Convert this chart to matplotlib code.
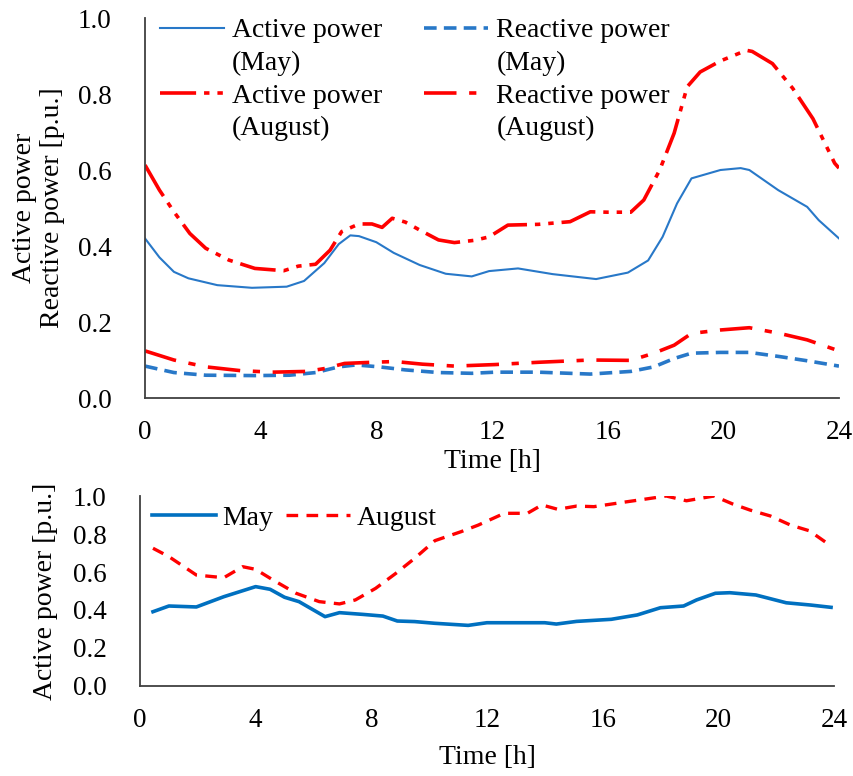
import matplotlib
matplotlib.use("Agg")
import matplotlib.pyplot as plt
from matplotlib.lines import Line2D

plt.rcParams['font.family'] = ['Liberation Serif', 'DejaVu Serif']

# ---------------- data (top) ----------------
h_act_may = [0, 0.5, 1.0, 1.5, 2.5, 3.7, 4.9, 5.5, 6.2, 6.7, 7.1, 7.4, 8.0, 8.6, 9.5, 10.4,
             11.3, 11.9, 12.9, 14.1, 15.6, 16.7, 17.4, 17.9, 18.4, 18.9, 19.9, 20.6, 20.9,
             21.9, 22.9, 23.3, 24.0]
v_act_may = [0.420, 0.370, 0.332, 0.315, 0.297, 0.290, 0.293, 0.308, 0.355, 0.405, 0.428,
             0.426, 0.410, 0.382, 0.350, 0.327, 0.320, 0.334, 0.341, 0.326, 0.313, 0.330,
             0.362, 0.424, 0.512, 0.578, 0.600, 0.605, 0.600, 0.547, 0.503, 0.468, 0.420]

h_act_aug = [0, 0.5, 1.0, 1.55, 2.1, 2.9, 3.8, 4.8, 5.3, 5.9, 6.4, 6.8, 7.4, 7.85, 8.2, 8.55,
             9.0, 9.5, 10.15, 10.7, 11.4, 11.9, 12.55, 13.6, 14.7, 15.4, 16.0, 16.8, 17.25,
             17.8, 18.3, 18.75, 19.2, 19.9, 20.8, 21.0, 21.7, 22.4, 23.1, 23.85, 24.0]
v_act_aug = [0.613, 0.547, 0.490, 0.433, 0.394, 0.363, 0.341, 0.335, 0.347, 0.352, 0.389,
             0.438, 0.458, 0.458, 0.449, 0.473, 0.463, 0.442, 0.416, 0.409, 0.415, 0.424,
             0.455, 0.457, 0.464, 0.490, 0.489, 0.489, 0.521, 0.600, 0.697, 0.819, 0.858,
             0.887, 0.915, 0.912, 0.880, 0.815, 0.735, 0.618, 0.605]

h_rea_may = [0, 1.0, 2.1, 3.8, 5.0, 5.9, 6.7, 7.3, 8.1, 9.0, 10.15, 11.3, 12.1, 13.6, 15.4,
             16.8, 17.6, 18.3, 18.9, 19.9, 20.9, 21.95, 22.9, 24.0]
v_rea_may = [0.084, 0.067, 0.060, 0.059, 0.060, 0.067, 0.082, 0.087, 0.082, 0.074, 0.067,
             0.065, 0.068, 0.068, 0.063, 0.070, 0.082, 0.104, 0.118, 0.120, 0.120, 0.109,
             0.098, 0.084]

h_rea_aug = [0, 1.0, 2.1, 3.3, 4.4, 5.6, 6.25, 6.9, 7.85, 8.65, 9.6, 10.7, 12.1, 13.6, 15.4,
             16.8, 17.6, 18.3, 18.9, 19.9, 20.9, 21.95, 22.9, 24.0]
v_rea_aug = [0.124, 0.100, 0.082, 0.072, 0.068, 0.070, 0.078, 0.091, 0.094, 0.096, 0.089,
             0.084, 0.088, 0.094, 0.100, 0.099, 0.118, 0.139, 0.170, 0.179, 0.185, 0.170,
             0.153, 0.124]

# ---------------- data (bottom) ----------------
h_may = [0.45, 1.0, 1.95, 2.9, 4.0, 4.5, 5.0, 5.5, 6.4, 6.9, 7.7, 8.4, 8.9, 9.5, 10.2, 11.35,
         12.0, 12.6, 14.0, 14.4, 15.1, 16.3, 17.2, 18.0, 18.8, 19.25, 19.9, 20.4, 21.3,
         22.35, 23.2, 23.9]
v_may = [0.391, 0.421, 0.416, 0.470, 0.523, 0.509, 0.467, 0.444, 0.365, 0.386, 0.377, 0.368,
         0.342, 0.339, 0.330, 0.319, 0.333, 0.333, 0.333, 0.326, 0.340, 0.351, 0.374, 0.412,
         0.421, 0.453, 0.488, 0.491, 0.479, 0.438, 0.426, 0.414]

h_aug = [0.45, 1.0, 1.95, 2.9, 3.55, 4.0, 4.6, 5.4, 6.2, 6.9, 7.45, 8.15, 8.85, 9.5, 10.2,
         11.1, 11.7, 12.6, 13.4, 13.9, 14.45, 15.1, 15.7, 16.85, 17.4, 18.2, 18.9, 19.85,
         20.5, 21.1, 21.8, 22.5, 23.15, 23.9]
v_aug = [0.725, 0.681, 0.584, 0.570, 0.628, 0.614, 0.558, 0.488, 0.444, 0.432, 0.453, 0.514,
         0.593, 0.672, 0.765, 0.812, 0.847, 0.909, 0.909, 0.953, 0.930, 0.947, 0.944, 0.970,
         0.982, 1.000, 0.975, 1.000, 0.958, 0.926, 0.895, 0.847, 0.817, 0.737]

x_ticks = [0, 4, 8, 12, 16, 20, 24]
y_ticks = [0.0, 0.2, 0.4, 0.6, 0.8, 1.0]

BLUE = "#2878C8"
BLUE2 = "#0070C0"
RED = "#FF0000"
FS = 20
TFS = 19.5

fig = plt.figure(figsize=(8.54, 7.76), dpi=100)
ax1 = fig.add_axes([0.1698, 0.4871, 0.8126, 0.4897])
ax2 = fig.add_axes([0.1639, 0.1160, 0.8126, 0.2448])

l1, = ax1.plot(h_act_may, v_act_may, color=BLUE, lw=1.5)
l2, = ax1.plot(h_act_aug, v_act_aug, color=RED, lw=2.6,
               dashes=(10, 2.2, 1.5, 2.2, 1.5, 2.2))
l3, = ax1.plot(h_rea_may, v_rea_may, color=BLUE, lw=2.6, dashes=(3.5, 2))
l4, = ax1.plot(h_rea_aug, v_rea_aug, color=RED, lw=2.6, dashes=(9, 3.5, 2, 3.5))

m1, = ax2.plot(h_may, v_may, color=BLUE2, lw=2.6, label="May")
m2, = ax2.plot(h_aug, v_aug, color=RED, lw=2.4, dashes=(3.5, 2.5), label="August")

for ax in (ax1, ax2):
    ax.set_xlim(0, 24)
    ax.set_ylim(0, 1.0)
    ax.set_xticks(x_ticks)
    ax.set_yticks(y_ticks)
    ax.set_yticklabels([f"{t:.1f}" for t in y_ticks])
    ax.spines['top'].set_visible(False)
    ax.spines['right'].set_visible(False)
    for s in ('left', 'bottom'):
        ax.spines[s].set_color('#404040')
        ax.spines[s].set_linewidth(1.3)
    ax.tick_params(axis='both', length=0, labelsize=TFS)
    ax.tick_params(axis='x', pad=16)
    ax.tick_params(axis='y', pad=24)

ax1.set_xlabel("Time [h]", fontsize=FS, va='center')
ax1.xaxis.set_label_coords(0.5, -0.168)
ax1.set_ylabel("Active power\nReactive power [p.u.]", fontsize=FS, va='center',
               linespacing=1.15)
ax1.yaxis.set_label_coords(-0.154, 0.5)

ax2.set_xlabel("Time [h]", fontsize=FS, va='center')
ax2.xaxis.set_label_coords(0.5, -0.374)
ax2.set_ylabel("Active power [p.u.]", fontsize=FS, va='center')
ax2.yaxis.set_label_coords(-0.136, 0.5)

blank = Line2D([], [], color='none')
handles1 = [l1, blank, l2, blank, l3, blank, l4, blank]
labels1 = ["Active power", "(May)", "Active power", "(August)",
           "Reactive power", "(May)", "Reactive power", "(August)"]
leg1 = ax1.legend(handles=handles1, labels=labels1, ncol=2, loc='upper left',
                  bbox_to_anchor=(0.0215, 1.0), frameon=False, fontsize=FS,
                  borderpad=0, borderaxespad=0, handlelength=2.3,
                  handletextpad=0.3, columnspacing=1.5, labelspacing=0.26)

leg2 = ax2.legend(handles=[m1, m2], ncol=2, loc='center left',
                  bbox_to_anchor=(0.017, 0.884), frameon=False, fontsize=FS,
                  borderpad=0, borderaxespad=0, handlelength=2.3,
                  handletextpad=0.25, columnspacing=0.45)

fig.savefig("out.png", dpi=100)
